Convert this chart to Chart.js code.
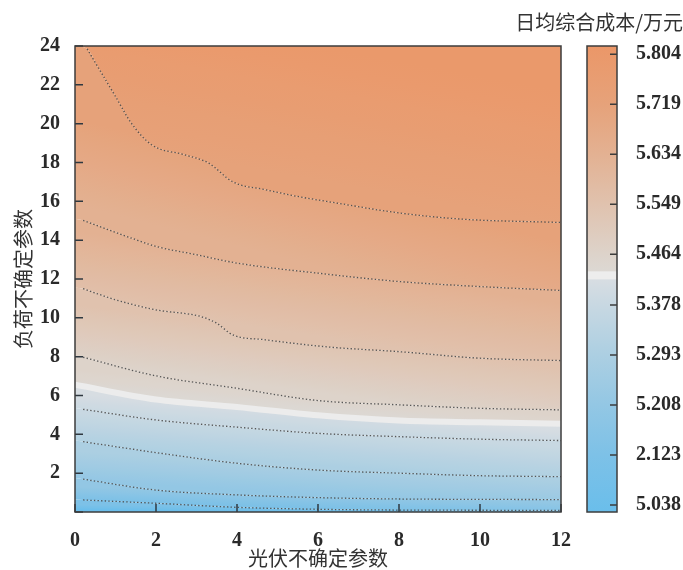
<!DOCTYPE html>
<html>
<head>
<meta charset="utf-8">
<script src="https://cdn.jsdelivr.net/npm/chart.js@4.4.1/dist/chart.umd.min.js"></script>
<style>
  html, body { margin: 0; padding: 0; background: #fff; }
  #wrap { position: relative; width: 683px; height: 570px; }
  #main { position: absolute; left: 0; top: 0; }
  #bar { position: absolute; left: 500px; top: 0; }
</style>
</head>
<body>
<div id="wrap">
  <canvas id="main" width="580" height="570"></canvas>
  <canvas id="bar" width="183" height="570"></canvas>
</div>
<script>
// axes
const xTicks = [0, 2, 4, 6, 8, 10, 12];
const yTicks = [0, 2, 4, 6, 8, 10, 12, 14, 16, 18, 20, 22, 24];

// colour bar
const cbTicks = [5.038, 5.123, 5.208, 5.293, 5.378, 5.464, 5.549, 5.634, 5.719, 5.804];
const cbLabels = ['5.038', '2.123', '5.208', '5.293', '5.378', '5.464', '5.549', '5.634', '5.719', '5.804'];
const cbRange = [5.026, 5.818];
const whiteBand = [5.421, 5.435];

// contour levels (万元) and their lines, [光伏不确定参数, 负荷不确定参数]
// first point of each line sits on the left axis (edge of the filled band)
const levels = [5.123, 5.208, 5.293, 5.378, 5.428, 5.464, 5.549, 5.634, 5.719];
const line5123 = [[0, 0.64], [0.2, 0.62], [2, 0.45], [4, 0.24], [6, 0.14], [8, 0.10], [10, 0.09], [12, 0.08]];
const line5208 = [[0, 1.75], [0.2, 1.69], [2, 1.13], [4, 0.88], [6, 0.74], [8, 0.67], [10, 0.65], [12, 0.64]];
const line5293 = [[0, 3.68], [0.2, 3.62], [2, 3.06], [4, 2.51], [6, 2.16], [8, 2.0], [10, 1.87], [12, 1.82]];
const line5378 = [[0, 5.35], [0.2, 5.29], [2, 4.74], [4, 4.37], [6, 4.05], [8, 3.88], [10, 3.75], [12, 3.68]];
const line5428 = [[0, 6.55], [2, 5.79], [4, 5.41], [6, 4.98], [8, 4.71], [10, 4.62], [12, 4.55]];
const line5464 = [[0, 8.05], [0.2, 7.97], [2, 7.01], [4, 6.37], [6, 5.74], [8, 5.52], [10, 5.34], [12, 5.26]];
const line5549 = [[0, 11.55], [0.2, 11.5], [1, 10.93], [2, 10.41], [3.1, 10.07], [3.5, 9.72], [3.9, 9.12], [4.7, 8.87], [6.3, 8.49], [8, 8.26], [10, 7.92], [12, 7.8]];
const line5634 = [[0, 15.1], [0.2, 15.02], [1.4, 14.1], [2, 13.68], [3, 13.25], [4, 12.82], [6, 12.3], [8, 11.87], [10, 11.61], [12, 11.41]];
const line5719 = [[0, 24], [0.3, 23.85], [0.6, 22.8], [1.0, 21.4], [1.4, 20.0], [1.9, 18.9], [2.7, 18.4], [3.3, 17.97], [3.9, 17.0], [4.7, 16.6], [5.5, 16.25], [6.5, 15.9], [7.9, 15.43], [9.5, 15.09], [12, 14.91]];

const contourLines = [line5123, line5208, line5293, line5378, line5428, line5464, line5549, line5634, line5719];

// colour map stops
const cmapStops = [
  [5.026, [106, 190, 235]], [5.123, [125, 193, 231]], [5.208, [147, 199, 228]],
  [5.293, [172, 207, 226]], [5.378, [200, 216, 226]], [5.421, [215, 221, 226]],
  [5.435, [220, 216, 211]], [5.464, [221, 211, 202]], [5.549, [224, 194, 174]],
  [5.634, [227, 177, 146]], [5.719, [230, 162, 122]], [5.818, [235, 151, 104]]
];

const FONT_NUM = { family: "'Liberation Serif', 'Times New Roman', serif", size: 20, weight: 'bold' };
const FONT_CJK = { family: "'Noto Sans CJK SC', sans-serif", size: 20, weight: 'normal' };
const TEXT = '#2a2a2a';

function cmap(v) {
  if (v <= cmapStops[0][0]) return cmapStops[0][1];
  for (let i = 1; i < cmapStops.length; i++) {
    const [v1, c1] = cmapStops[i];
    if (v <= v1) {
      const [v0, c0] = cmapStops[i - 1];
      const t = (v - v0) / (v1 - v0);
      return c0.map((c, k) => c + (c1[k] - c) * t);
    }
  }
  return cmapStops[cmapStops.length - 1][1];
}
const rgb = c => `rgb(${c.map(Math.round).join(',')})`;
const toPts = line => line.map(([x, y]) => ({ x, y }));

// sample a line at even x steps, in pixels
function samplePixels(chart, pts) {
  const xs = chart.scales.x, ys = chart.scales.y;
  const out = [];
  const x0 = pts[0][0], x1 = pts[pts.length - 1][0];
  for (let k = 0; k <= 24; k++) {
    const xv = x0 + (x1 - x0) * k / 24;
    let j = 0;
    while (j < pts.length - 2 && pts[j + 1][0] < xv) j++;
    const [ax, ay] = pts[j], [bx, by] = pts[j + 1];
    const yv = ay + (by - ay) * (xv - ax) / ((bx - ax) || 1);
    out.push({ x: xs.getPixelForValue(xv), y: ys.getPixelForValue(yv) });
  }
  return out;
}

// gradient between two contour lines, tilted along the band
function bandFill(context, lowPts, lowLv, highPts, highLv) {
  const chart = context.chart;
  if (!chart.chartArea || !chart.scales.x) return rgb(cmap((lowLv + highLv) / 2));
  const A = samplePixels(chart, lowPts), B = samplePixels(chart, highPts);
  let dx = A[A.length - 1].x - A[0].x + B[B.length - 1].x - B[0].x;
  let dy = A[A.length - 1].y - A[0].y + B[B.length - 1].y - B[0].y;
  const len = Math.hypot(dx, dy);
  dx /= len; dy /= len;
  const nx = dy, ny = -dx;
  const proj = P => P.reduce((s, p) => s + p.x * nx + p.y * ny, 0) / P.length;
  const pa = proj(A);
  let pb = proj(B);
  if (Math.abs(pb - pa) < 1) pb = pa - 1;
  const off = pa - (A[0].x * nx + A[0].y * ny);
  const sx = A[0].x + nx * off, sy = A[0].y + ny * off;
  const g = chart.ctx.createLinearGradient(sx, sy, sx + nx * (pb - pa), sy + ny * (pb - pa));
  for (let k = 0; k <= 6; k++) g.addColorStop(k / 6, rgb(cmap(lowLv + (highLv - lowLv) * k / 6)));
  return g;
}

const xMin = xTicks[0], xMax = xTicks[xTicks.length - 1];
const yMin = yTicks[0], yMax = yTicks[yTicks.length - 1];
const bottomEdge = [[xMin, yMin], [xMax, yMin]];
const topEdge = [[xMin, yMax], [xMax, yMax]];
const WHITE_IDX = 4;

const levelBelow = i => (i === WHITE_IDX ? whiteBand[0] : levels[i]);
const levelAbove = i => (i === WHITE_IDX ? whiteBand[1] : levels[i]);

// filled bands: dataset i fills down to dataset i-1
const datasets = contourLines.map((line, i) => {
  const lowPts = i === 0 ? bottomEdge : contourLines[i - 1];
  const lowLv = i === 0 ? cbTicks[0] : levelAbove(i - 1);
  return {
    label: 'band ' + levels[i],
    data: toPts(line),
    fill: i === 0 ? 'start' : i - 1,
    backgroundColor: c => bandFill(c, lowPts, lowLv, line, levelBelow(i)),
    borderWidth: 0,
    borderColor: 'rgba(0,0,0,0)',
    cubicInterpolationMode: 'monotone',
    pointRadius: 0
  };
});
// region above the highest line
datasets.push({
  label: 'top',
  data: toPts(line5719),
  fill: 'end',
  backgroundColor: c => bandFill(c, line5719, levels[levels.length - 1], topEdge, cbTicks[cbTicks.length - 1]),
  borderWidth: 0,
  borderColor: 'rgba(0,0,0,0)',
  cubicInterpolationMode: 'monotone',
  pointRadius: 0
});
// contour strokes on top
contourLines.forEach((line, i) => {
  const isWhite = i === WHITE_IDX;
  datasets.push({
    label: String(levels[i]),
    data: toPts(isWhite ? line : line.slice(1)),
    fill: false,
    borderColor: isWhite ? 'rgb(236,236,236)' : 'rgba(72,72,72,0.9)',
    borderWidth: isWhite ? 6 : 1.3,
    borderDash: isWhite ? [] : [1.4, 2.2],
    cubicInterpolationMode: 'monotone',
    pointRadius: 0
  });
});

const frameTicks = {
  id: 'frameTicks',
  afterDatasetsDraw(chart) {
    const { ctx, chartArea: a, scales: { x, y } } = chart;
    ctx.save();
    ctx.strokeStyle = '#2f3840';
    ctx.lineWidth = 1.5;
    ctx.beginPath();
    x.ticks.forEach(t => {
      const p = x.getPixelForValue(t.value);
      ctx.moveTo(p, a.bottom); ctx.lineTo(p, a.bottom - 8);
    });
    y.ticks.forEach(t => {
      const p = y.getPixelForValue(t.value);
      ctx.moveTo(a.left, p); ctx.lineTo(a.left + 8, p);
    });
    ctx.stroke();
    ctx.strokeStyle = '#3c3c3c';
    ctx.strokeRect(a.left, a.top, a.right - a.left, a.bottom - a.top);
    ctx.restore();
  }
};

new Chart(document.getElementById('main'), {
  type: 'line',
  data: { datasets },
  options: {
    responsive: false,
    animation: false,
    layout: { padding: { top: 46, right: 17, left: 0, bottom: 0 } },
    plugins: {
      legend: { display: false },
      tooltip: { enabled: false },
      filler: { drawTime: 'beforeDatasetsDraw' }
    },
    scales: {
      x: {
        type: 'linear', min: xMin, max: xMax,
        afterFit: s => { s.height = 58; },
        afterBuildTicks: s => { s.ticks = xTicks.map(v => ({ value: v })); },
        grid: { display: false }, border: { display: false },
        ticks: { padding: 9, font: FONT_NUM, color: TEXT, maxRotation: 0 },
        title: { display: true, text: '光伏不确定参数', font: FONT_CJK, color: '#333', padding: { top: 0, bottom: 0 } }
      },
      y: {
        type: 'linear', min: yMin, max: yMax,
        afterFit: s => { s.width = 75; },
        afterBuildTicks: s => { s.ticks = yTicks.map(v => ({ value: v })); },
        grid: { display: false }, border: { display: false },
        ticks: { padding: 7, font: FONT_NUM, color: TEXT, callback: v => (v === 0 ? '' : v) },
        title: { display: true, text: '负荷不确定参数', font: FONT_CJK, color: '#333', padding: { top: 11, bottom: 0 } }
      }
    }
  },
  plugins: [frameTicks]
});

// colour bar
function cbGradient(context) {
  const chart = context.chart;
  if (!chart.chartArea || !chart.scales.y) return rgb(cmap(5.43));
  const ys = chart.scales.y;
  const y0 = ys.getPixelForValue(cbRange[0]), y1 = ys.getPixelForValue(cbRange[1]);
  const g = chart.ctx.createLinearGradient(0, y0, 0, y1);
  const pos = v => (v - cbRange[0]) / (cbRange[1] - cbRange[0]);
  cmapStops.forEach(([v, c]) => {
    if (v <= whiteBand[0] || v >= whiteBand[1]) g.addColorStop(pos(v), rgb(c));
  });
  g.addColorStop(pos(whiteBand[0]), rgb(cmap(whiteBand[0])));
  g.addColorStop(pos(whiteBand[0]) + 0.0005, 'rgb(237,237,237)');
  g.addColorStop(pos(whiteBand[1]) - 0.0005, 'rgb(237,237,237)');
  g.addColorStop(pos(whiteBand[1]), rgb(cmap(whiteBand[1])));
  return g;
}

const cbFrame = {
  id: 'cbFrame',
  afterDatasetsDraw(chart) {
    const { ctx, chartArea: a, scales: { y } } = chart;
    ctx.save();
    ctx.strokeStyle = '#3c3c3c';
    ctx.lineWidth = 1.5;
    ctx.beginPath();
    y.ticks.forEach(t => {
      const p = y.getPixelForValue(t.value);
      ctx.moveTo(a.right, p); ctx.lineTo(a.right - 7, p);
    });
    ctx.stroke();
    ctx.strokeRect(a.left, a.top, a.right - a.left, a.bottom - a.top);
    ctx.restore();
  }
};

new Chart(document.getElementById('bar'), {
  type: 'bar',
  data: {
    labels: ['日均综合成本'],
    datasets: [{
      data: [cbRange],
      backgroundColor: cbGradient,
      borderWidth: 0,
      barPercentage: 1,
      categoryPercentage: 1
    }]
  },
  options: {
    responsive: false,
    animation: false,
    layout: { padding: { left: 0, right: 0, top: 0, bottom: 58 } },
    plugins: {
      legend: { display: false },
      tooltip: { enabled: false },
      title: {
        display: true, text: '日均综合成本/万元', align: 'end',
        font: FONT_CJK, color: '#333', padding: { top: 10, bottom: 12 }
      }
    },
    scales: {
      x: { display: false },
      // empty spacer axis that keeps the bar at the right place
      pad: {
        type: 'linear', position: 'left', min: cbRange[0], max: cbRange[1],
        afterFit: s => { s.width = 87; },
        grid: { display: false }, border: { display: false },
        ticks: { display: false }
      },
      y: {
        position: 'right', min: cbRange[0], max: cbRange[1],
        afterFit: s => { s.width = 66; },
        afterBuildTicks: s => { s.ticks = cbTicks.map(v => ({ value: v })); },
        grid: { display: false }, border: { display: false },
        ticks: { padding: 11, font: FONT_NUM, color: TEXT, callback: (v, i) => cbLabels[i] }
      }
    }
  },
  plugins: [cbFrame]
});
</script>
</body>
</html>
